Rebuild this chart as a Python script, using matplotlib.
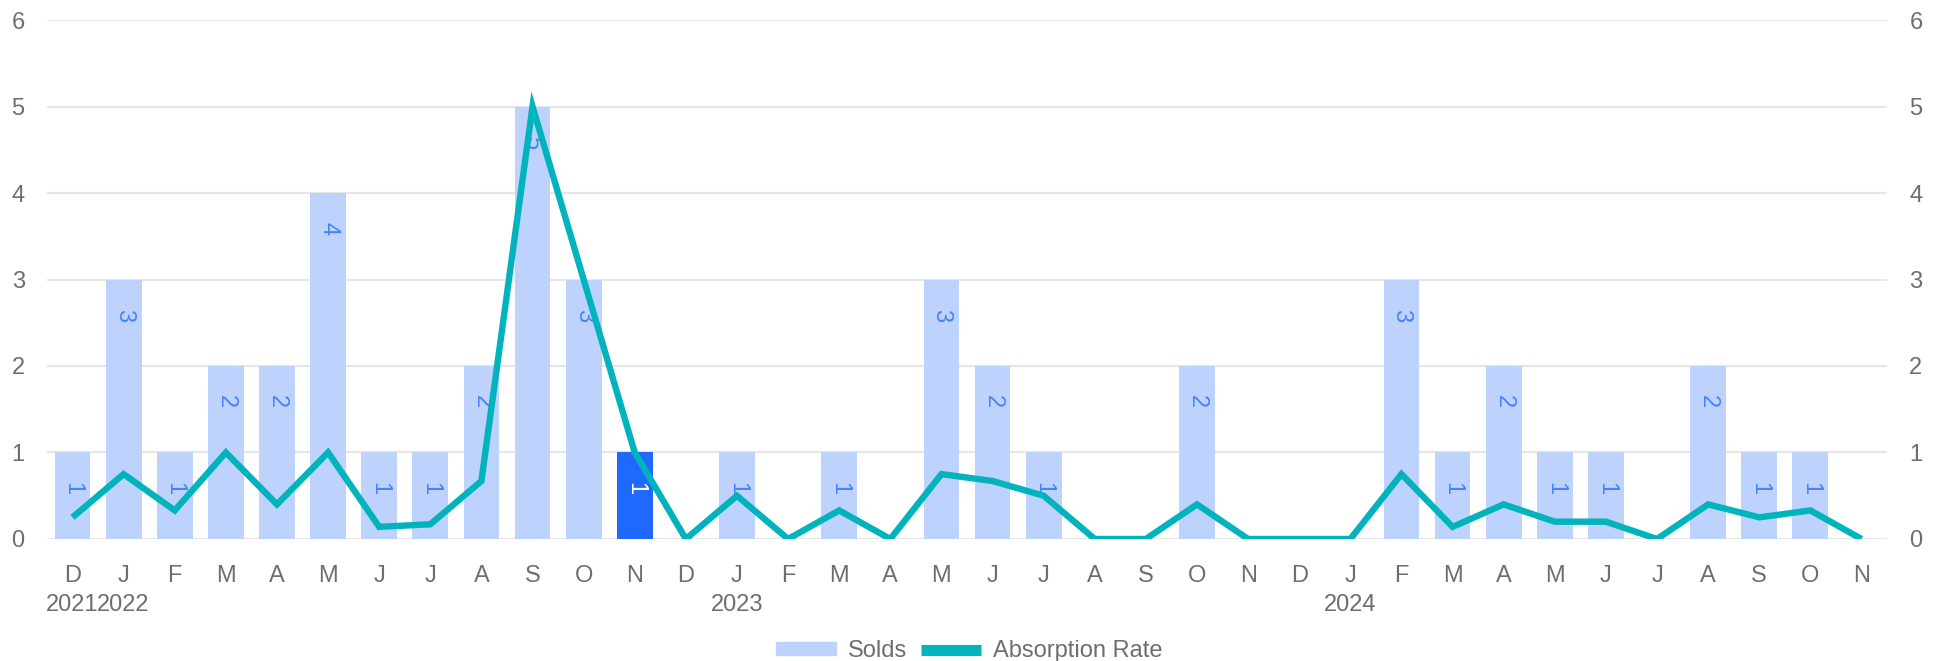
import matplotlib
matplotlib.use("Agg")
import matplotlib.pyplot as plt
from matplotlib.patches import Patch
from matplotlib.lines import Line2D

plt.rcParams['font.family'] = ['Liberation Sans', 'DejaVu Sans']

# Monthly data, Dec 2021 -> Nov 2024
months = ["D", "J", "F", "M", "A", "M", "J", "J", "A", "S", "O", "N",
          "D", "J", "F", "M", "A", "M", "J", "J", "A", "S", "O", "N",
          "D", "J", "F", "M", "A", "M", "J", "J", "A", "S", "O", "N"]
years = {0: "2021", 1: "2022", 13: "2023", 25: "2024"}
solds = [1, 3, 1, 2, 2, 4, 1, 1, 2, 5, 3, 1,
         0, 1, 0, 1, 0, 3, 2, 1, 0, 0, 2, 0,
         0, 0, 3, 1, 2, 1, 1, 0, 2, 1, 1, 0]
absorption = [0.25, 0.75, 0.33, 1.0, 0.4, 1.0, 0.14, 0.17, 0.67, 5.0, 3.0, 1.0,
              0.0, 0.5, 0.0, 0.33, 0.0, 0.75, 0.67, 0.5, 0.0, 0.0, 0.4, 0.0,
              0.0, 0.0, 0.75, 0.14, 0.4, 0.2, 0.2, 0.0, 0.4, 0.25, 0.33, 0.0]
highlight = 11  # Nov 2022

bar_color = "#bdd3fe"
bar_hi = "#2069ff"
line_color = "#00b3bd"
text_gray = "#6e6e6e"
grid_gray = "#e6e6e6"

fig = plt.figure(figsize=(19.4, 6.61), dpi=100)
ax = fig.add_axes([0.0242, 0.1846, 0.9485, 0.7851])

x = list(range(len(months)))
colors = [bar_hi if i == highlight else bar_color for i in x]
ax.bar(x, solds, width=0.7, color=colors, zorder=2)

for i, v in enumerate(solds):
    if v > 0:
        ax.text(i, v - 0.34, str(v), rotation=270, ha="center", va="top",
                fontsize=17, color="white" if i == highlight else "#4583ff",
                zorder=3)

ax.set_xlim(-0.5, len(months) - 0.5)
ax.set_ylim(0, 6)
ax.set_yticks(range(7))
ax.grid(axis="y", color=grid_gray, linewidth=1.6, zorder=0)
ax.set_axisbelow(True)

labels = [m + ("\n" + years[i] if i in years else "") for i, m in enumerate(months)]
ax.set_xticks(x)
ax.set_xticklabels(labels, linespacing=1.4)
ax.tick_params(axis="x", length=0, pad=19, labelsize=17, colors=text_gray)
ax.tick_params(axis="y", length=0, pad=16, labelsize=17, colors=text_gray)
for s in ax.spines.values():
    s.set_visible(False)

ax2 = ax.twinx()
ax2.plot(x, absorption, color=line_color, linewidth=4.6, solid_joinstyle="miter",
         solid_capstyle="butt", zorder=4)
ax2.set_ylim(0, 6)
ax2.set_yticks(range(7))
ax2.tick_params(axis="y", length=0, pad=16, labelsize=17, colors=text_gray)
for s in ax2.spines.values():
    s.set_visible(False)

handles = [Patch(color=bar_color, label="Solds"),
           Line2D([], [], color=line_color, linewidth=8, solid_capstyle="butt",
                  label="Absorption Rate")]
fig.legend(handles=handles, loc="center", bbox_to_anchor=(0.4995, 0.015), ncol=2,
           frameon=False, fontsize=17, labelcolor=text_gray, handlelength=2.55,
           handleheight=0.47, columnspacing=0.6, handletextpad=0.5)

fig.savefig("out.png", dpi=100)
